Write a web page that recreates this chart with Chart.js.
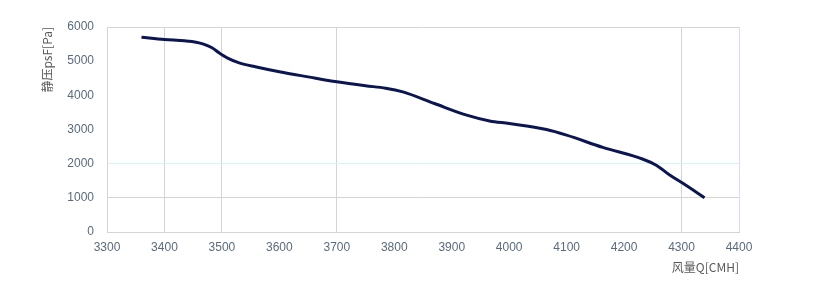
<!DOCTYPE html>
<html>
<head>
<meta charset="utf-8">
<script src="https://cdn.jsdelivr.net/npm/chart.js@4"></script>
<style>
  body { margin: 0; background: #fff; }
  #wrap { width: 819px; height: 286px; }
</style>
</head>
<body>
<div id="wrap"><canvas id="fan-chart" width="819" height="286"></canvas></div>
<script>
// Fan curve: airflow Q [CMH] vs static pressure [Pa]
const flowQ = [3360, 3400, 3435, 3455, 3468, 3482, 3495, 3510, 3530, 3560, 3600, 3650, 3700,
               3750, 3785, 3815, 3870, 3926, 3966, 4000, 4065, 4100, 4163, 4233, 4256,
               4280, 4303, 4340];
const staticP = [5700, 5635, 5595, 5555, 5500, 5400, 5245, 5090, 4950, 4830, 4690, 4540, 4395,
                 4280, 4210, 4100, 3760, 3420, 3250, 3175, 3000, 2835, 2475, 2130, 1955,
                 1660, 1420, 1005];

const xTitle = '风量Q[CMH]';
const yTitle = '静压psF[Pa]';

// gridlines that are actually visible in the original
const xGray = [3300, 3400, 3500, 3700, 4300];
const yGray = [0, 1000, 6000];

const points = flowQ.map((q, i) => ({ x: q, y: staticP[i] }));

const tickColor = '#5a6b7d';
const gridGray = '#d4d4d4';

const ctx = document.getElementById('fan-chart').getContext('2d');
const fanChart = new Chart(ctx, {
    type: 'scatter',
    data: {
        datasets: [{
            data: points,
            showLine: true,
            borderColor: '#0b1552',
            borderWidth: 3,
            pointRadius: 0,
            cubicInterpolationMode: 'monotone',
            fill: false
        }]
    },
    options: {
        responsive: false,
        animation: false,
        layout: {
            padding: { left: 0, right: 80, top: 27, bottom: 0 }
        },
        plugins: {
            legend: { display: false },
            tooltip: { enabled: false }
        },
        scales: {
            x: {
                type: 'linear',
                min: 3300,
                max: 4400,
                afterFit: function(scale) { scale.height = 54; },
                ticks: {
                    stepSize: 100,
                    color: tickColor,
                    padding: 8,
                    font: { family: 'Liberation Sans', size: 12 },
                    callback: function(v) { return String(v); }
                },
                grid: {
                    drawTicks: false,
                    lineWidth: 1,
                    color: function(c) {
                        const v = c.tick && c.tick.value;
                        if (v === 4400) return '#dcdcfa';
                        return xGray.includes(v) ? gridGray : 'rgba(0,0,0,0)';
                    }
                },
                border: { color: gridGray },
                title: {
                    display: true,
                    text: xTitle,
                    align: 'end',
                    color: '#595959',
                    padding: { top: 0, bottom: 11 },
                    font: { family: 'Noto Sans CJK SC', size: 12 }
                }
            },
            y: {
                min: 0,
                max: 6000,
                afterFit: function(scale) { scale.width = 107; },
                ticks: {
                    stepSize: 1000,
                    color: tickColor,
                    padding: 13,
                    font: { family: 'Liberation Sans', size: 12 },
                    callback: function(v) { return String(v); }
                },
                grid: {
                    drawTicks: false,
                    lineWidth: 1,
                    color: function(c) {
                        const v = c.tick && c.tick.value;
                        if (v === 2000) return '#d6f3f6';
                        return yGray.includes(v) ? gridGray : 'rgba(0,0,0,0)';
                    }
                },
                border: { color: gridGray },
                title: {
                    display: true,
                    text: yTitle,
                    align: 'end',
                    color: '#595959',
                    padding: { top: 40, bottom: 0 },
                    font: { family: 'Noto Sans CJK SC', size: 12 }
                }
            }
        }
    }
});
</script>
</body>
</html>
